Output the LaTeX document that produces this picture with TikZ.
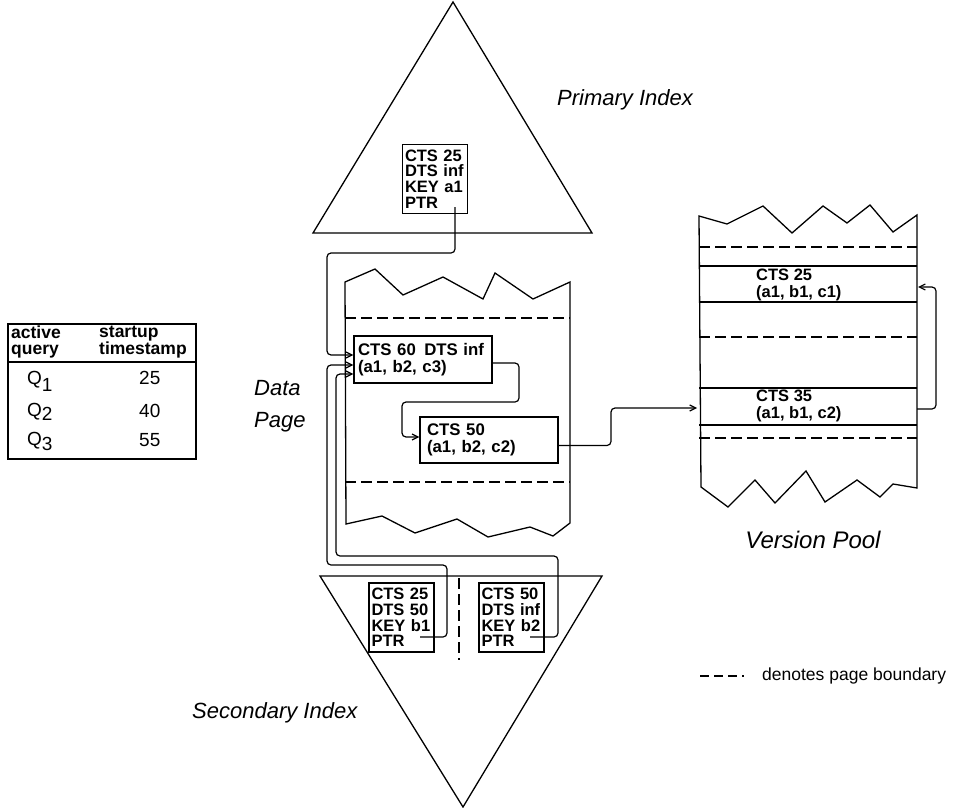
\documentclass[tikz,border=0pt]{standalone}
\usepackage{fontspec}
\setmainfont{Liberation Sans}
\usetikzlibrary{arrows.meta}
\begin{document}
\begin{tikzpicture}[x=1pt,y=-1pt,
 ln/.style={line width=1.3pt},
 dsh/.style={line width=1.3pt, dash pattern=on 11pt off 5pt},
 conn/.style={line width=1.2pt, rounded corners=4pt},
 arr/.style={conn, -{Straight Barb[length=6pt,width=6pt]}},
 ptrbox/.style={draw, line width=1.3pt, minimum width=65pt, minimum height=69pt, text width=60pt, align=left, inner sep=2.5pt, font=\fontsize{16.5}{15.7}\selectfont\bfseries},
 recbox/.style={draw, line width=1.3pt, minimum width=138pt, minimum height=47pt, text width=130pt, align=left, inner sep=4pt, font=\fontsize{16.8}{17}\selectfont\bfseries},
 vrec/.style={anchor=west, align=left, inner sep=0pt, font=\fontsize{16.5}{17.5}\selectfont\bfseries},
 lbl/.style={font=\fontsize{22}{32}\selectfont\itshape, inner sep=0pt},
 tbl/.style={inner sep=0pt, font=\fontsize{17.5}{16}\selectfont\bfseries, align=left},
 tq/.style={inner sep=0pt, font=\fontsize{19}{19}\selectfont},
]
\useasboundingbox (0,0) rectangle (961,808);

% primary index triangle
\draw[ln] (453,2) -- (592,233) -- (313,233) -- cycle;
\node[lbl, anchor=west] (plbl) at (557,100) {Primary Index};
\node[ptrbox] (pbox) at (435,179) {CTS 25\\DTS inf\\KEY a1\\PTR};
\coordinate (pp) at (455,207);

% secondary index triangle
\draw[ln] (320,576) -- (602,576) -- (463,807) -- cycle;
\draw[dsh] (459,578) -- (459,660);
\node[lbl, anchor=west] (slbl) at (192,713) {Secondary Index};
\node[ptrbox] (sbox1) at (401.5,617.5) {CTS 25\\DTS 50\\KEY b1\\PTR};
\node[ptrbox] (sbox2) at (511.5,617.5) {CTS 50\\DTS inf\\KEY b2\\PTR};
\coordinate (sp1) at (420,637);
\coordinate (sp2) at (530,637);

% data page
\draw[ln] (345,282) -- (375,269) -- (403,295) -- (443,277) -- (483,299) -- (495,273) -- (533,299) -- (570,282)
  -- (570,523) -- (553,536) -- (530,527) -- (488,537) -- (457,519) -- (415,533) -- (382,516) -- (346,524) -- cycle;
\draw[dsh] (345,318) -- (570,318);
\draw[dsh] (345,482) -- (570,482);
\node[lbl, anchor=west, align=left] (dlbl) at (254,406) {Data\\Page};
\node[recbox] (rec1) at (423,359.5) {\mbox{CTS 60\enspace DTS inf}\\(a1, b2, c3)};
\node[recbox, minimum height=46pt, text width=124pt, inner sep=7pt] (rec2) at (489,440) {CTS 50\\(a1, b2, c2)};

% version pool
\draw[ln] (699,216) -- (727,224) -- (763,206) -- (792,233) -- (823,206) -- (847,223) -- (870,205) -- (893,232) -- (917,215)
  -- (917,488) -- (893,484) -- (880,497) -- (857,480) -- (825,502) -- (806,471) -- (775,503) -- (755,480) -- (728,507) -- (701,487) -- cycle;
\draw[dsh] (699,247) -- (917,247);
\draw[ln] (699,266) -- (917,266);
\draw[ln] (699,302) -- (917,302);
\draw[dsh] (699,337) -- (917,337);
\draw[ln] (699,388) -- (917,388);
\draw[ln] (699,425) -- (917,425);
\draw[dsh] (699,438) -- (917,438);
\node[vrec] (vr25) at (756,285) {CTS 25\\(a1, b1, c1)};
\node[vrec] (vr35) at (756,406) {CTS 35\\(a1, b1, c2)};
\node[lbl, font=\fontsize{24}{26}\selectfont\itshape] (vlbl) at (813,540) {Version Pool};
\coordinate (vpin) at (697,408);
\coordinate (v35r) at (917,409);
\coordinate (v25r) at (918,287);

% connectors
\draw[arr] (pp) |- (327,253) |- ([yshift=4.5pt]rec1.west);
\draw[arr] (sp1) -| (447,565) -| (327,365) -- ([yshift=-5.5pt]rec1.west);
\draw[arr] (sp2) -| (558,556) -| (336,374) -- ([yshift=-14.5pt]rec1.west);
\draw[arr] ([yshift=-3.5pt]rec1.east) -| (519,402) -| (402,437) -- ([yshift=3pt]rec2.west);
\draw[arr] ([yshift=-5.5pt]rec2.east) -| (611,408) -- (vpin);
\draw[arr] (v35r) -| (936,287) -- (v25r);

% table
\draw[ln] (8,324) rectangle (196,459);
\draw[ln] (8,362) -- (196,362);
\node[tbl, anchor=north west] (th1) at (11,326) {active\\query};
\node[tbl, anchor=north west] (th2) at (99,326) {startup\\timestamp};
\node[tq, anchor=west] (q1) at (27,381) {Q\raisebox{-7pt}{1}};
\node[tq, anchor=west] (q2) at (27,412) {Q\raisebox{-4pt}{2}};
\node[tq, anchor=west] (q3) at (27,441) {Q\raisebox{-5pt}{3}};
\node[tq, anchor=west] (n1) at (139,378) {25};
\node[tq, anchor=west] (n2) at (139,411) {40};
\node[tq, anchor=west] (n3) at (139,440) {55};

% legend
\coordinate (lg1) at (700,676);
\coordinate (lg2) at (744,676);
\draw[ln, dash pattern=on 9pt off 5pt] (lg1) -- (lg2);
\node[inner sep=0pt, anchor=west, font=\fontsize{17.5}{17.5}\selectfont] (lgt) at (762,676) {denotes page boundary};
\end{tikzpicture}
\end{document}
